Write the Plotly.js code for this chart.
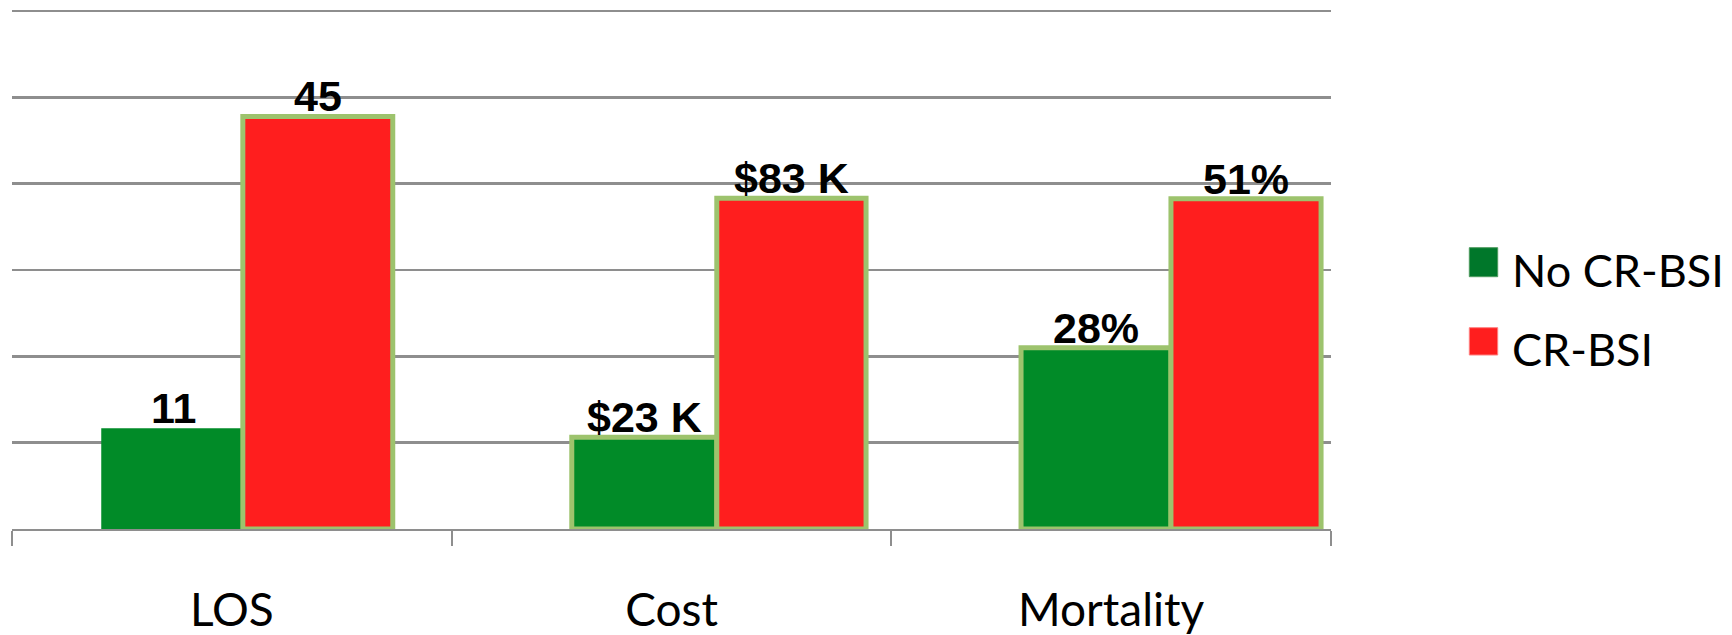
<!DOCTYPE html>
<html>
<head>
<meta charset="utf-8">
<script src="https://cdn.plot.ly/plotly-3.0.1.min.js"></script>
<style>
  html, body { margin: 0; padding: 0; background: #ffffff; }
  #chart { width: 1732px; height: 635px; }
</style>
</head>
<body>
<div id="chart"></div>
<script>
// Outcomes with and without catheter-related bloodstream infection
const categories = ['LOS', 'Cost', 'Mortality'];
const seriesNames = ['No CR-BSI', 'CR-BSI'];
const noBsiValues = [11, 23, 28];
const crBsiValues = [45, 83, 51];
const noBsiLabels = ['11', '$23 K', '28%'];
const crBsiLabels = ['45', '$83 K', '51%'];

// Each outcome has its own unit, so each one gets its own value axis
const axisMax = [56.5, 130, 80];
const axisIds = ['y', 'y2', 'y3'];
const headroom = 1.004; // keeps the top gridline inside the plot area

// Bar geometry in category units (offset from category centre, width)
const barStyle = {
  no: { offset: [-0.297, -0.2268, -0.205], width: [0.3268, 0.330, 0.341], line: [0, 5, 5] },
  cr: { offset: [0.025, 0.103, 0.136], width: [0.341, 0.3395, 0.3414], line: [5, 5, 5] }
};

const GREEN = '#018b28';
const GREEN_KEY = '#00772a';
const RED = '#ff1e1e';
const OUTLINE = '#9dc36d';
const GRID = '#8e8e8e';

const margin = { l: 12, r: 401, t: 9, b: 106 };
const W = 1732, H = 635;
const plotW = W - margin.l - margin.r;
const plotH = H - margin.t - margin.b;
const pxX = px => (px - margin.l) / plotW;
const pxY = py => 1 - (py - margin.t) / plotH;

const traces = [];
const annotations = [];

categories.forEach((cat, i) => {
  [['no', noBsiValues, noBsiLabels, GREEN, 0], ['cr', crBsiValues, crBsiLabels, RED, 1]].forEach(([key, vals, labels, color, s]) => {
    const st = barStyle[key];
    traces.push({
      type: 'bar',
      name: seriesNames[s],
      x: [cat],
      y: [vals[i]],
      xaxis: 'x',
      yaxis: axisIds[i],
      offset: st.offset[i],
      width: st.width[i],
      marker: { color: color, line: { color: OUTLINE, width: st.line[i] } },
      showlegend: false,
      hoverinfo: 'skip'
    });
    annotations.push({
      xref: 'x',
      yref: axisIds[i],
      x: i + st.offset[i] + st.width[i] / 2,
      y: vals[i],
      text: '<b>' + labels[i] + '</b>',
      showarrow: false,
      xanchor: 'center',
      yanchor: 'bottom',
      yshift: -6,
      font: { family: 'Liberation Sans, Arial, sans-serif', size: 43, color: '#000000' }
    });
  });
});

// Legend drawn as keyed swatches beside the plot
const legendRows = [
  { name: seriesNames[0], color: GREEN_KEY, top: 247.7, bottom: 276.7 },
  { name: seriesNames[1], color: RED, top: 327.7, bottom: 355 }
];
const shapes = legendRows.map(r => ({
  type: 'rect', xref: 'paper', yref: 'paper',
  x0: pxX(1469.3), x1: pxX(1497.7), y0: pxY(r.bottom), y1: pxY(r.top),
  fillcolor: r.color, line: { width: 1, color: r.color === RED ? '#ff8080' : '#4e9a5e' }
}));
legendRows.forEach(r => {
  annotations.push({
    xref: 'paper', yref: 'paper',
    x: pxX(1510), y: pxY((r.top + r.bottom) / 2 + 8),
    xanchor: 'left', yanchor: 'middle',
    text: r.name, showarrow: false,
    font: { family: 'Lato, sans-serif', size: 45, color: '#000000' }
  });
});

const valueAxis = (i) => ({
  range: [0, axisMax[i] * headroom],
  fixedrange: true,
  showticklabels: false,
  ticks: '',
  zeroline: false,
  showline: false
});

const layout = {
  width: W,
  height: H,
  margin: margin,
  paper_bgcolor: '#ffffff',
  plot_bgcolor: '#ffffff',
  showlegend: false,
  barmode: 'overlay',
  xaxis: {
    type: 'category',
    categoryorder: 'array',
    categoryarray: categories,
    range: [-0.5, 2.5],
    fixedrange: true,
    showgrid: false,
    showline: true,
    linecolor: GRID,
    linewidth: 2,
    ticks: 'outside',
    tickson: 'boundaries',
    ticklen: 15,
    tickwidth: 2,
    tickcolor: GRID,
    ticklabelstandoff: 40,
    tickfont: { family: 'Lato, sans-serif', size: 46, color: '#000000' }
  },
  yaxis: Object.assign(valueAxis(0), {
    showgrid: true,
    gridcolor: GRID,
    gridwidth: 2.5,
    tick0: 0,
    dtick: axisMax[0] / 6
  }),
  yaxis2: Object.assign(valueAxis(1), { overlaying: 'y', showgrid: false }),
  yaxis3: Object.assign(valueAxis(2), { overlaying: 'y', showgrid: false }),
  shapes: shapes,
  annotations: annotations
};

Plotly.newPlot('chart', traces, layout, { displayModeBar: false, staticPlot: true });
</script>
</body>
</html>
